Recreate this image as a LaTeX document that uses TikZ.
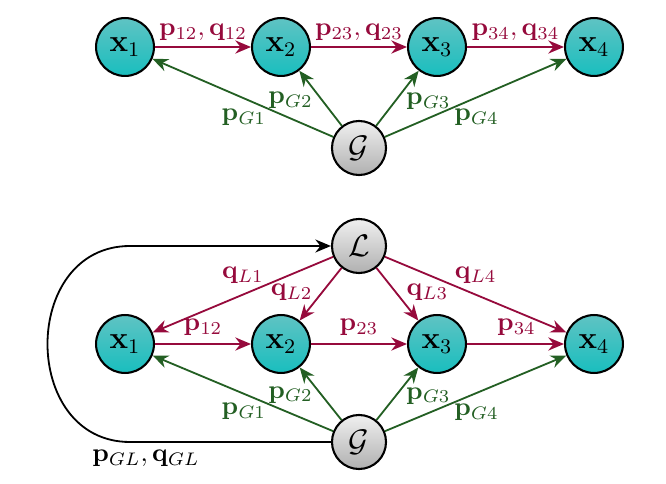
\documentclass[tikz,border=0pt]{standalone}
\usetikzlibrary{arrows.meta}
\definecolor{myred}{RGB}{150,10,60}
\definecolor{mygreen}{RGB}{35,95,35}
\definecolor{tealtop}{RGB}{95,195,195}
\definecolor{tealbot}{RGB}{25,190,190}
\begin{document}
\begin{tikzpicture}[x=0.385pt,y=-0.385pt,
  xnode/.style={circle,draw=black,line width=0.8pt,minimum size=22.3pt,inner sep=0pt,font=\large,top color=tealtop,bottom color=tealbot},
  gnode/.style={circle,draw=black,line width=0.8pt,minimum size=20.8pt,inner sep=0pt,font=\large,top color=gray!12,bottom color=gray!62},
  redthick/.style={draw=myred,line width=1.1pt,-{Stealth[length=6pt,width=5pt]}},
  redthin/.style={draw=myred,line width=0.7pt,-{Stealth[length=6pt,width=5pt]}},
  greenline/.style={draw=mygreen,line width=0.7pt,-{Stealth[length=6pt,width=5pt]}},
  blackline/.style={draw=black,line width=0.7pt,-{Stealth[length=6pt,width=5pt]}},
  rlab/.style={text=myred,inner sep=0pt},
  glab/.style={text=mygreen,inner sep=0pt}]
\useasboundingbox (0,0) rectangle (666,484);
% top
\node[xnode] (a1) at (125,47) {$\mathbf{x}_1$};
\node[xnode] (a2) at (281,47) {$\mathbf{x}_2$};
\node[xnode] (a3) at (437,47) {$\mathbf{x}_3$};
\node[xnode] (a4) at (594,47) {$\mathbf{x}_4$};
\node[gnode] (aG) at (359,148) {$\mathcal{G}$};
\draw[redthick] (a1) -- node[rlab,shift={(0,-15)}] {$\mathbf{p}_{12},\mathbf{q}_{12}$} (a2);
\draw[redthick] (a2) -- node[rlab,shift={(0,-15)}] {$\mathbf{p}_{23},\mathbf{q}_{23}$} (a3);
\draw[redthick] (a3) -- node[rlab,shift={(0,-15)}] {$\mathbf{p}_{34},\mathbf{q}_{34}$} (a4);
\draw[greenline] (aG) -- node[glab,shift={(1,19)}] {$\mathbf{p}_{G1}$} (a1);
\draw[greenline] (aG) -- node[glab,shift={(-30,2)}] {$\mathbf{p}_{G2}$} (a2);
\draw[greenline] (aG) -- node[glab,shift={(31,3)}] {$\mathbf{p}_{G3}$} (a3);
\draw[greenline] (aG) -- node[glab,shift={(1,19)}] {$\mathbf{p}_{G4}$} (a4);
% bottom
\node[gnode] (bL) at (359,246) {$\mathcal{L}$};
\node[xnode] (b1) at (125,344) {$\mathbf{x}_1$};
\node[xnode] (b2) at (281,344) {$\mathbf{x}_2$};
\node[xnode] (b3) at (437,344) {$\mathbf{x}_3$};
\node[xnode] (b4) at (594,344) {$\mathbf{x}_4$};
\node[gnode] (bG) at (359,442) {$\mathcal{G}$};
\draw[redthick] (b1) -- node[rlab,shift={(0,-17)}] {$\mathbf{p}_{12}$} (b2);
\draw[redthick] (b2) -- node[rlab,shift={(0,-17)}] {$\mathbf{p}_{23}$} (b3);
\draw[redthick] (b3) -- node[rlab,shift={(1,-17)}] {$\mathbf{p}_{34}$} (b4);
\draw[redthin] (bL) -- node[rlab,shift={(0,-19)}] {$\mathbf{q}_{L1}$} (b1);
\draw[redthin] (bL) -- node[rlab,shift={(-29,-2)}] {$\mathbf{q}_{L2}$} (b2);
\draw[redthin] (bL) -- node[rlab,shift={(30,-2)}] {$\mathbf{q}_{L3}$} (b3);
\draw[redthin] (bL) -- node[rlab,shift={(0,-19)}] {$\mathbf{q}_{L4}$} (b4);
\draw[greenline] (bG) -- node[glab,shift={(1,18)}] {$\mathbf{p}_{G1}$} (b1);
\draw[greenline] (bG) -- node[glab,shift={(-30,1)}] {$\mathbf{p}_{G2}$} (b2);
\draw[greenline] (bG) -- node[glab,shift={(31,2)}] {$\mathbf{p}_{G3}$} (b3);
\draw[greenline] (bG) -- node[glab,shift={(1,19)}] {$\mathbf{p}_{G4}$} (b4);
\coordinate (cb) at (130,442);
\coordinate (ct) at (130,246);
\draw[blackline] (bG.west) -- (cb) .. controls +(-110,0) and +(-110,0) .. (ct) -- (bL.west);
\node[inner sep=0pt] (gl) at (146,458) {$\mathbf{p}_{GL},\mathbf{q}_{GL}$};
\end{tikzpicture}
\end{document}
